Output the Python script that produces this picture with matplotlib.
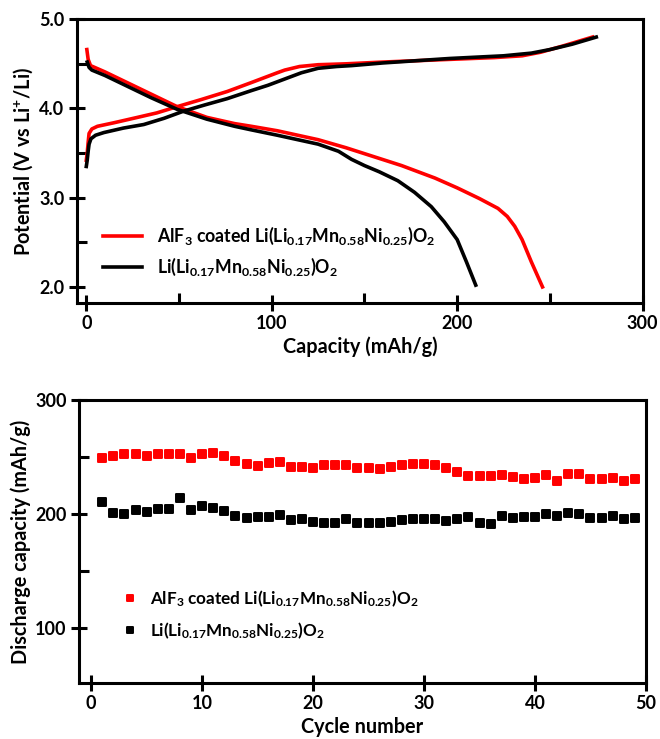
import matplotlib
matplotlib.use("Agg")
import matplotlib.pyplot as plt
from matplotlib.ticker import MultipleLocator
from matplotlib.markers import MarkerStyle

plt.rcParams['font.family'] = ['Lato', 'DejaVu Sans']
plt.rcParams['font.weight'] = 'bold'
plt.rcParams['mathtext.fontset'] = 'custom'
plt.rcParams['mathtext.rm'] = 'Lato:bold'
plt.rcParams['mathtext.it'] = 'Lato:bold'
plt.rcParams['mathtext.bf'] = 'Lato:bold'

# charge / discharge curves (capacity mAh/g, potential V)
coated_charge_cap = [0, 0.5, 1, 1.5, 3, 6, 15, 27.6, 38, 49, 62, 76, 89, 103, 107, 115, 125, 140, 160, 196, 220, 235, 245, 257, 273]
coated_charge_v = [3.42, 3.5, 3.62, 3.72, 3.77, 3.80, 3.84, 3.90, 3.95, 4.02, 4.10, 4.19, 4.29, 4.40, 4.43, 4.47, 4.49, 4.50, 4.52, 4.55, 4.57, 4.59, 4.63, 4.70, 4.80]
bare_charge_cap = [0, 0.5, 1, 1.5, 2.5, 5, 9.5, 20, 31, 42, 52.5, 64, 76, 89, 98, 107, 116, 125, 135, 143, 160, 196, 225, 240, 250, 262, 275]
bare_charge_v = [3.35, 3.42, 3.52, 3.60, 3.66, 3.70, 3.73, 3.78, 3.82, 3.89, 3.97, 4.04, 4.11, 4.20, 4.26, 4.33, 4.40, 4.45, 4.47, 4.48, 4.51, 4.56, 4.59, 4.62, 4.66, 4.72, 4.80]
coated_dis_cap = [0.3, 1, 2.3, 10, 22, 35, 49, 65, 80, 89, 103, 125, 140, 152, 170, 188, 200, 212, 222, 227, 231, 235, 240, 246]
coated_dis_v = [4.66, 4.55, 4.48, 4.41, 4.29, 4.16, 4.02, 3.90, 3.83, 3.80, 3.75, 3.65, 3.56, 3.48, 3.36, 3.22, 3.11, 2.99, 2.88, 2.79, 2.68, 2.53, 2.28, 2.00]
bare_dis_cap = [0.5, 1.5, 3, 10, 22, 35, 49, 65, 80, 89, 103, 125, 136, 143, 150, 158, 168, 177, 186, 193, 200, 205, 210]
bare_dis_v = [4.52, 4.46, 4.43, 4.37, 4.25, 4.12, 3.99, 3.88, 3.80, 3.76, 3.70, 3.60, 3.52, 3.43, 3.36, 3.29, 3.19, 3.06, 2.90, 2.73, 2.53, 2.28, 2.02]

# cycling data
cycles = list(range(1, 50))
coated_cap = [248.9, 250.9, 252.4, 252.4, 251.1, 252.4, 252.6, 252.6, 249.4, 252.6,
              253.8, 250.9, 246.5, 243.9, 242.4, 244.5, 245.9, 241.5, 241.5, 240.1,
              243.0, 243.0, 243.0, 240.1, 240.6, 239.5, 241.5, 243.0, 243.6, 243.6,
              243.0, 240.1, 236.6, 233.3, 233.3, 233.3, 234.2, 232.7, 230.7, 231.3,
              234.2, 229.2, 234.8, 234.8, 230.4, 230.4, 231.9, 229.2, 230.7]
bare_cap = [210.8, 200.6, 200.0, 203.5, 201.5, 204.4, 204.4, 214.3, 203.5, 207.0,
            205.5, 202.6, 198.5, 196.2, 197.6, 197.6, 199.1, 194.7, 195.4, 193.2,
            191.8, 191.8, 195.4, 192.4, 192.4, 191.8, 193.2, 194.7, 195.4, 195.6,
            195.4, 194.2, 195.4, 197.1, 191.8, 191.0, 198.2, 196.8, 197.1, 197.7,
            199.7, 198.5, 200.6, 200.0, 196.8, 196.8, 198.2, 195.4, 196.2]

label_coated = r'AlF$_3$ coated Li(Li$_{0.17}$Mn$_{0.58}$Ni$_{0.25}$)O$_2$'
label_bare = r'Li(Li$_{0.17}$Mn$_{0.58}$Ni$_{0.25}$)O$_2$'

fig = plt.figure(figsize=(6.6, 7.39), dpi=100)
ax1 = fig.add_axes([0.1167, 0.590, 0.857, 0.384])
ax2 = fig.add_axes([0.1197, 0.0758, 0.859, 0.383])

for ax in (ax1, ax2):
    for s in ax.spines.values():
        s.set_linewidth(2.2)
    ax.tick_params(which='major', direction='inout', length=12, width=2.2, labelsize=13, pad=3)
    ax.tick_params(which='minor', direction='in', length=7, width=2.2)

# top: voltage profiles
ax1.plot(coated_charge_cap, coated_charge_v, color='#ff0000', lw=2.6)
ax1.plot(coated_dis_cap, coated_dis_v, color='#ff0000', lw=2.6, label=label_coated)
ax1.plot(bare_charge_cap, bare_charge_v, color='black', lw=2.6)
ax1.plot(bare_dis_cap, bare_dis_v, color='black', lw=2.6, label=label_bare)
ax1.set_xlim(-5, 300)
ax1.set_ylim(1.82, 5.0)
ax1.xaxis.set_major_locator(MultipleLocator(100))
ax1.xaxis.set_minor_locator(MultipleLocator(50))
ax1.yaxis.set_major_locator(MultipleLocator(1))
ax1.yaxis.set_minor_locator(MultipleLocator(0.5))
ax1.yaxis.set_major_formatter(lambda v, pos: f'{v:.1f}')
ax1.set_xlabel('Capacity (mAh/g)', fontsize=14.3, fontweight='bold', labelpad=3)
ax1.set_ylabel('Potential (V vs Li$^{+}$/Li)', fontsize=14.3, fontweight='bold', labelpad=3)
ax1.legend(loc='center left', bbox_to_anchor=(0.046, 0.18), frameon=False,
           fontsize=12.8, handlelength=2.2, handletextpad=0.85, labelspacing=0.5,
           borderaxespad=0, borderpad=0)

# bottom: cycling
sq = MarkerStyle('s', joinstyle='round')
ax2.plot(cycles, coated_cap, ls='none', marker=sq, color='#ff0000', ms=6, mew=1.4,
         mec='#ff0000', label=label_coated)
ax2.plot(cycles, bare_cap, ls='none', marker=sq, color='black', ms=6, mew=1.4,
         label=label_bare)
ax2.set_xlim(-1.1, 50)
ax2.set_ylim(52, 300)
ax2.xaxis.set_major_locator(MultipleLocator(10))
ax2.yaxis.set_major_locator(MultipleLocator(100))
ax2.yaxis.set_minor_locator(MultipleLocator(50))
ax2.set_xlabel('Cycle number', fontsize=14.3, fontweight='bold', labelpad=3)
ax2.set_ylabel('Discharge capacity (mAh/g)', fontsize=14.3, fontweight='bold', labelpad=3)
ax2.legend(loc='center left', bbox_to_anchor=(0.075, 0.242), frameon=False,
           fontsize=12.3, handlelength=1.0, handletextpad=0.67, labelspacing=0.7,
           borderaxespad=0, borderpad=0, markerscale=0.8)

for ax in (ax1, ax2):
    for t in ax.get_xticklabels() + ax.get_yticklabels():
        t.set_fontweight('bold')

fig.savefig('out.png', dpi=100)
